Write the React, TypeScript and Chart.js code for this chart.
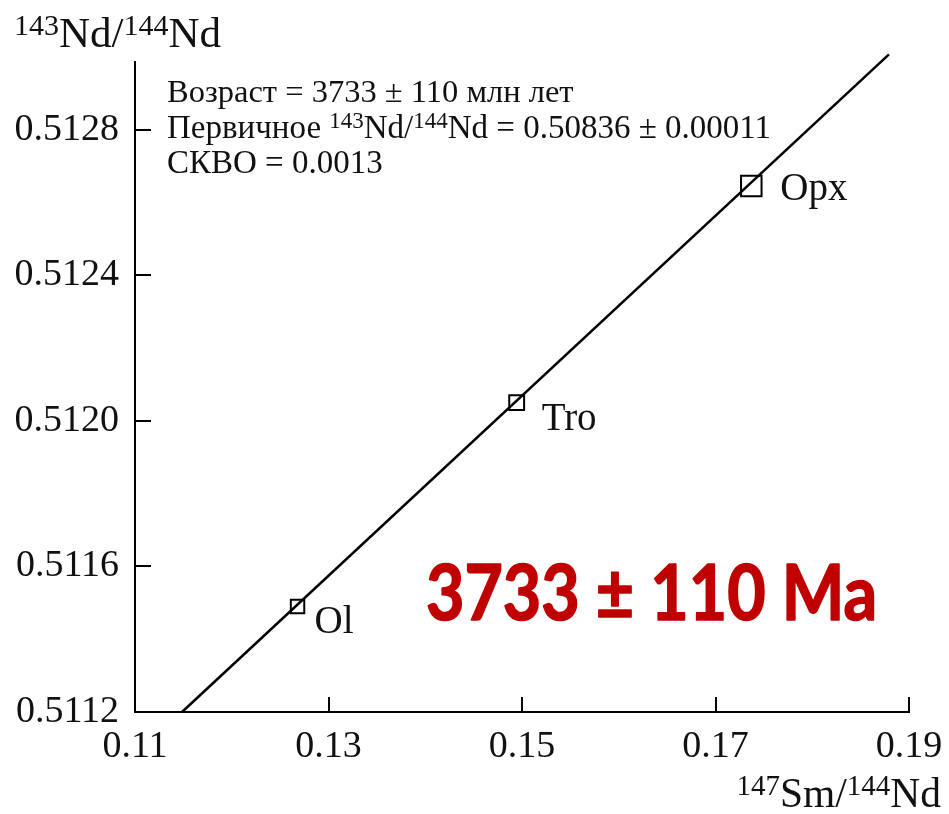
import React, { useEffect, useRef } from 'react';
import { Chart, registerables } from 'chart.js';

Chart.register(...registerables);

// ---- data ----
const SAMPLE_NAMES = ['Ol', 'Tro', 'Opx'];
const SM147_ND144 = [0.1268, 0.14945, 0.1737];
const ND143_ND144 = [0.51149, 0.51205, 0.512645];

const ISOCHRON_X = [0.11486, 0.18793];
const ISOCHRON_Y = [0.5112, 0.513007];

const X_TICKS = [0.11, 0.13, 0.15, 0.17, 0.19];
const X_TICK_LABELS = ['0.11', '0.13', '0.15', '0.17', '0.19'];
const Y_TICKS = [0.5112, 0.5116, 0.512, 0.5124, 0.5128];
const Y_TICK_LABELS = ['0.5112', '0.5116', '0.5120', '0.5124', '0.5128'];

const X_MIN = 0.11;
const X_MAX = 0.19;
const Y_MIN = 0.5112;
const Y_MAX = 0.512986;

const AGE_LINE = 'Возраст = 3733 ± 110 млн лет';
const INITIAL_PREFIX = 'Первичное ';
const INITIAL_VALUE = ' = 0.50836 ± 0.00011';
const MSWD_LINE = 'СКВО = 0.0013';
const AGE_BADGE = '3733 ± 110 Ma';

// label offsets (px) relative to each sample marker
const LABEL_OFFSETS = [
  [17, 27],
  [25, 27],
  [29, 14],
];

const SERIF = '"Liberation Serif", "Times New Roman", serif';

type Seg = { t: string; sup?: boolean };

function drawRich(
  ctx: CanvasRenderingContext2D,
  segs: Seg[],
  x: number,
  y: number,
  size: number,
  supSize: number,
  supRise: number,
  align: 'left' | 'right' = 'left'
) {
  let total = 0;
  const widths = segs.map((s) => {
    ctx.font = `${s.sup ? supSize : size}px ${SERIF}`;
    const w = ctx.measureText(s.t).width;
    total += w;
    return w;
  });
  let cx = align === 'right' ? x - total : x;
  ctx.textAlign = 'left';
  ctx.textBaseline = 'alphabetic';
  segs.forEach((s, i) => {
    ctx.font = `${s.sup ? supSize : size}px ${SERIF}`;
    ctx.fillText(s.t, cx, s.sup ? y - supRise : y);
    cx += widths[i];
  });
}

const decorPlugin = {
  id: 'decor',
  afterDraw(chart: any) {
    const ctx: CanvasRenderingContext2D = chart.ctx;
    const area = chart.chartArea;
    const xs = chart.scales.x;
    const ys = chart.scales.y;
    ctx.save();

    // inward tick marks
    ctx.strokeStyle = '#000';
    ctx.lineWidth = 2;
    ctx.beginPath();
    X_TICKS.forEach((v) => {
      const px = Math.round(xs.getPixelForValue(v));
      ctx.moveTo(px, area.bottom);
      ctx.lineTo(px, area.bottom - 15);
    });
    Y_TICKS.forEach((v) => {
      const py = Math.round(ys.getPixelForValue(v));
      ctx.moveTo(area.left, py);
      ctx.lineTo(area.left + 16, py);
    });
    ctx.stroke();

    ctx.fillStyle = '#111';

    // sample labels
    ctx.font = `39px ${SERIF}`;
    ctx.textAlign = 'left';
    ctx.textBaseline = 'alphabetic';
    SAMPLE_NAMES.forEach((name, i) => {
      const px = xs.getPixelForValue(SM147_ND144[i]);
      const py = ys.getPixelForValue(ND143_ND144[i]);
      ctx.fillText(name, px + LABEL_OFFSETS[i][0], py + LABEL_OFFSETS[i][1]);
    });

    // axis titles
    drawRich(
      ctx,
      [{ t: '143', sup: true }, { t: 'Nd/' }, { t: '144', sup: true }, { t: 'Nd' }],
      14,
      47,
      43,
      30,
      12
    );
    drawRich(
      ctx,
      [{ t: '147', sup: true }, { t: 'Sm/' }, { t: '144', sup: true }, { t: 'Nd' }],
      941,
      807,
      41.5,
      29,
      12,
      'right'
    );

    // info text
    const tx = 167;
    drawRich(ctx, [{ t: AGE_LINE }], tx, 102, 32.5, 23, 10);
    drawRich(
      ctx,
      [
        { t: INITIAL_PREFIX },
        { t: '143', sup: true },
        { t: 'Nd/' },
        { t: '144', sup: true },
        { t: 'Nd' + INITIAL_VALUE },
      ],
      tx,
      138,
      33,
      23,
      10
    );
    drawRich(ctx, [{ t: MSWD_LINE }], tx, 173, 33, 23, 10);

    // red age badge
    ctx.fillStyle = '#C00000';
    ctx.strokeStyle = '#C00000';
    ctx.lineWidth = 1.6;
    ctx.lineJoin = 'round';
    ctx.font = 'bold 76px Lato, "Open Sans", sans-serif';
    ctx.textAlign = 'left';
    ctx.textBaseline = 'alphabetic';
    ctx.fillText(AGE_BADGE, 426, 620, 451);
    ctx.strokeText(AGE_BADGE, 426, 620, 451);

    ctx.restore();
  },
};

export default function App() {
  const ref = useRef<HTMLCanvasElement | null>(null);

  useEffect(() => {
    const canvas = ref.current;
    if (!canvas) return;
    const chart = new Chart(canvas, {
      type: 'scatter',
      data: {
        datasets: [
          {
            label: 'isochron',
            data: ISOCHRON_X.map((x, i) => ({ x, y: ISOCHRON_Y[i] })),
            showLine: true,
            borderColor: '#000',
            borderWidth: 2.5,
            pointRadius: 0,
            clip: false as any,
          },
          {
            label: 'samples',
            data: SM147_ND144.map((x, i) => ({ x, y: ND143_ND144[i] })),
            pointStyle: 'rect',
            pointRadius: [9.5, 10.5, 14.5],
            pointBorderWidth: 2,
            borderColor: '#000',
            backgroundColor: 'rgba(0,0,0,0)',
            clip: false as any,
          },
        ],
      },
      options: {
        responsive: false,
        animation: false,
        devicePixelRatio: 1,
        events: [],
        layout: { padding: { left: 0, top: 62, right: 40, bottom: 0 } },
        plugins: {
          legend: { display: false },
          tooltip: { enabled: false },
        },
        scales: {
          x: {
            type: 'linear',
            min: X_MIN,
            max: X_MAX,
            grid: { display: false, drawTicks: false },
            border: { display: true, color: '#000', width: 2 },
            afterBuildTicks: (s: any) => {
              s.ticks = X_TICKS.map((value) => ({ value }));
            },
            afterFit: (s: any) => {
              s.height = 102;
              s.paddingLeft = 0;
              s.paddingRight = 0;
            },
            ticks: {
              autoSkip: false,
              maxRotation: 0,
              padding: 12,
              color: '#111',
              font: { family: SERIF, size: 38 },
              callback: (_v: any, i: number) => X_TICK_LABELS[i],
            },
          },
          y: {
            type: 'linear',
            min: Y_MIN,
            max: Y_MAX,
            grid: { display: false, drawTicks: false },
            border: { display: true, color: '#000', width: 2 },
            afterBuildTicks: (s: any) => {
              s.ticks = Y_TICKS.map((value) => ({ value }));
            },
            afterFit: (s: any) => {
              s.width = 135;
              s.paddingTop = 0;
              s.paddingBottom = 0;
            },
            ticks: {
              autoSkip: false,
              padding: 16,
              color: '#111',
              font: { family: SERIF, size: 38 },
              callback: (_v: any, i: number) => Y_TICK_LABELS[i],
            },
          },
        },
      },
      plugins: [decorPlugin],
    });
    return () => chart.destroy();
  }, []);

  return (
    <div style={{ position: 'fixed', left: 0, top: 0, width: 949, height: 814, background: '#fff' }}>
      <canvas ref={ref} width={949} height={814} style={{ width: 949, height: 814, display: 'block' }} />
    </div>
  );
}
